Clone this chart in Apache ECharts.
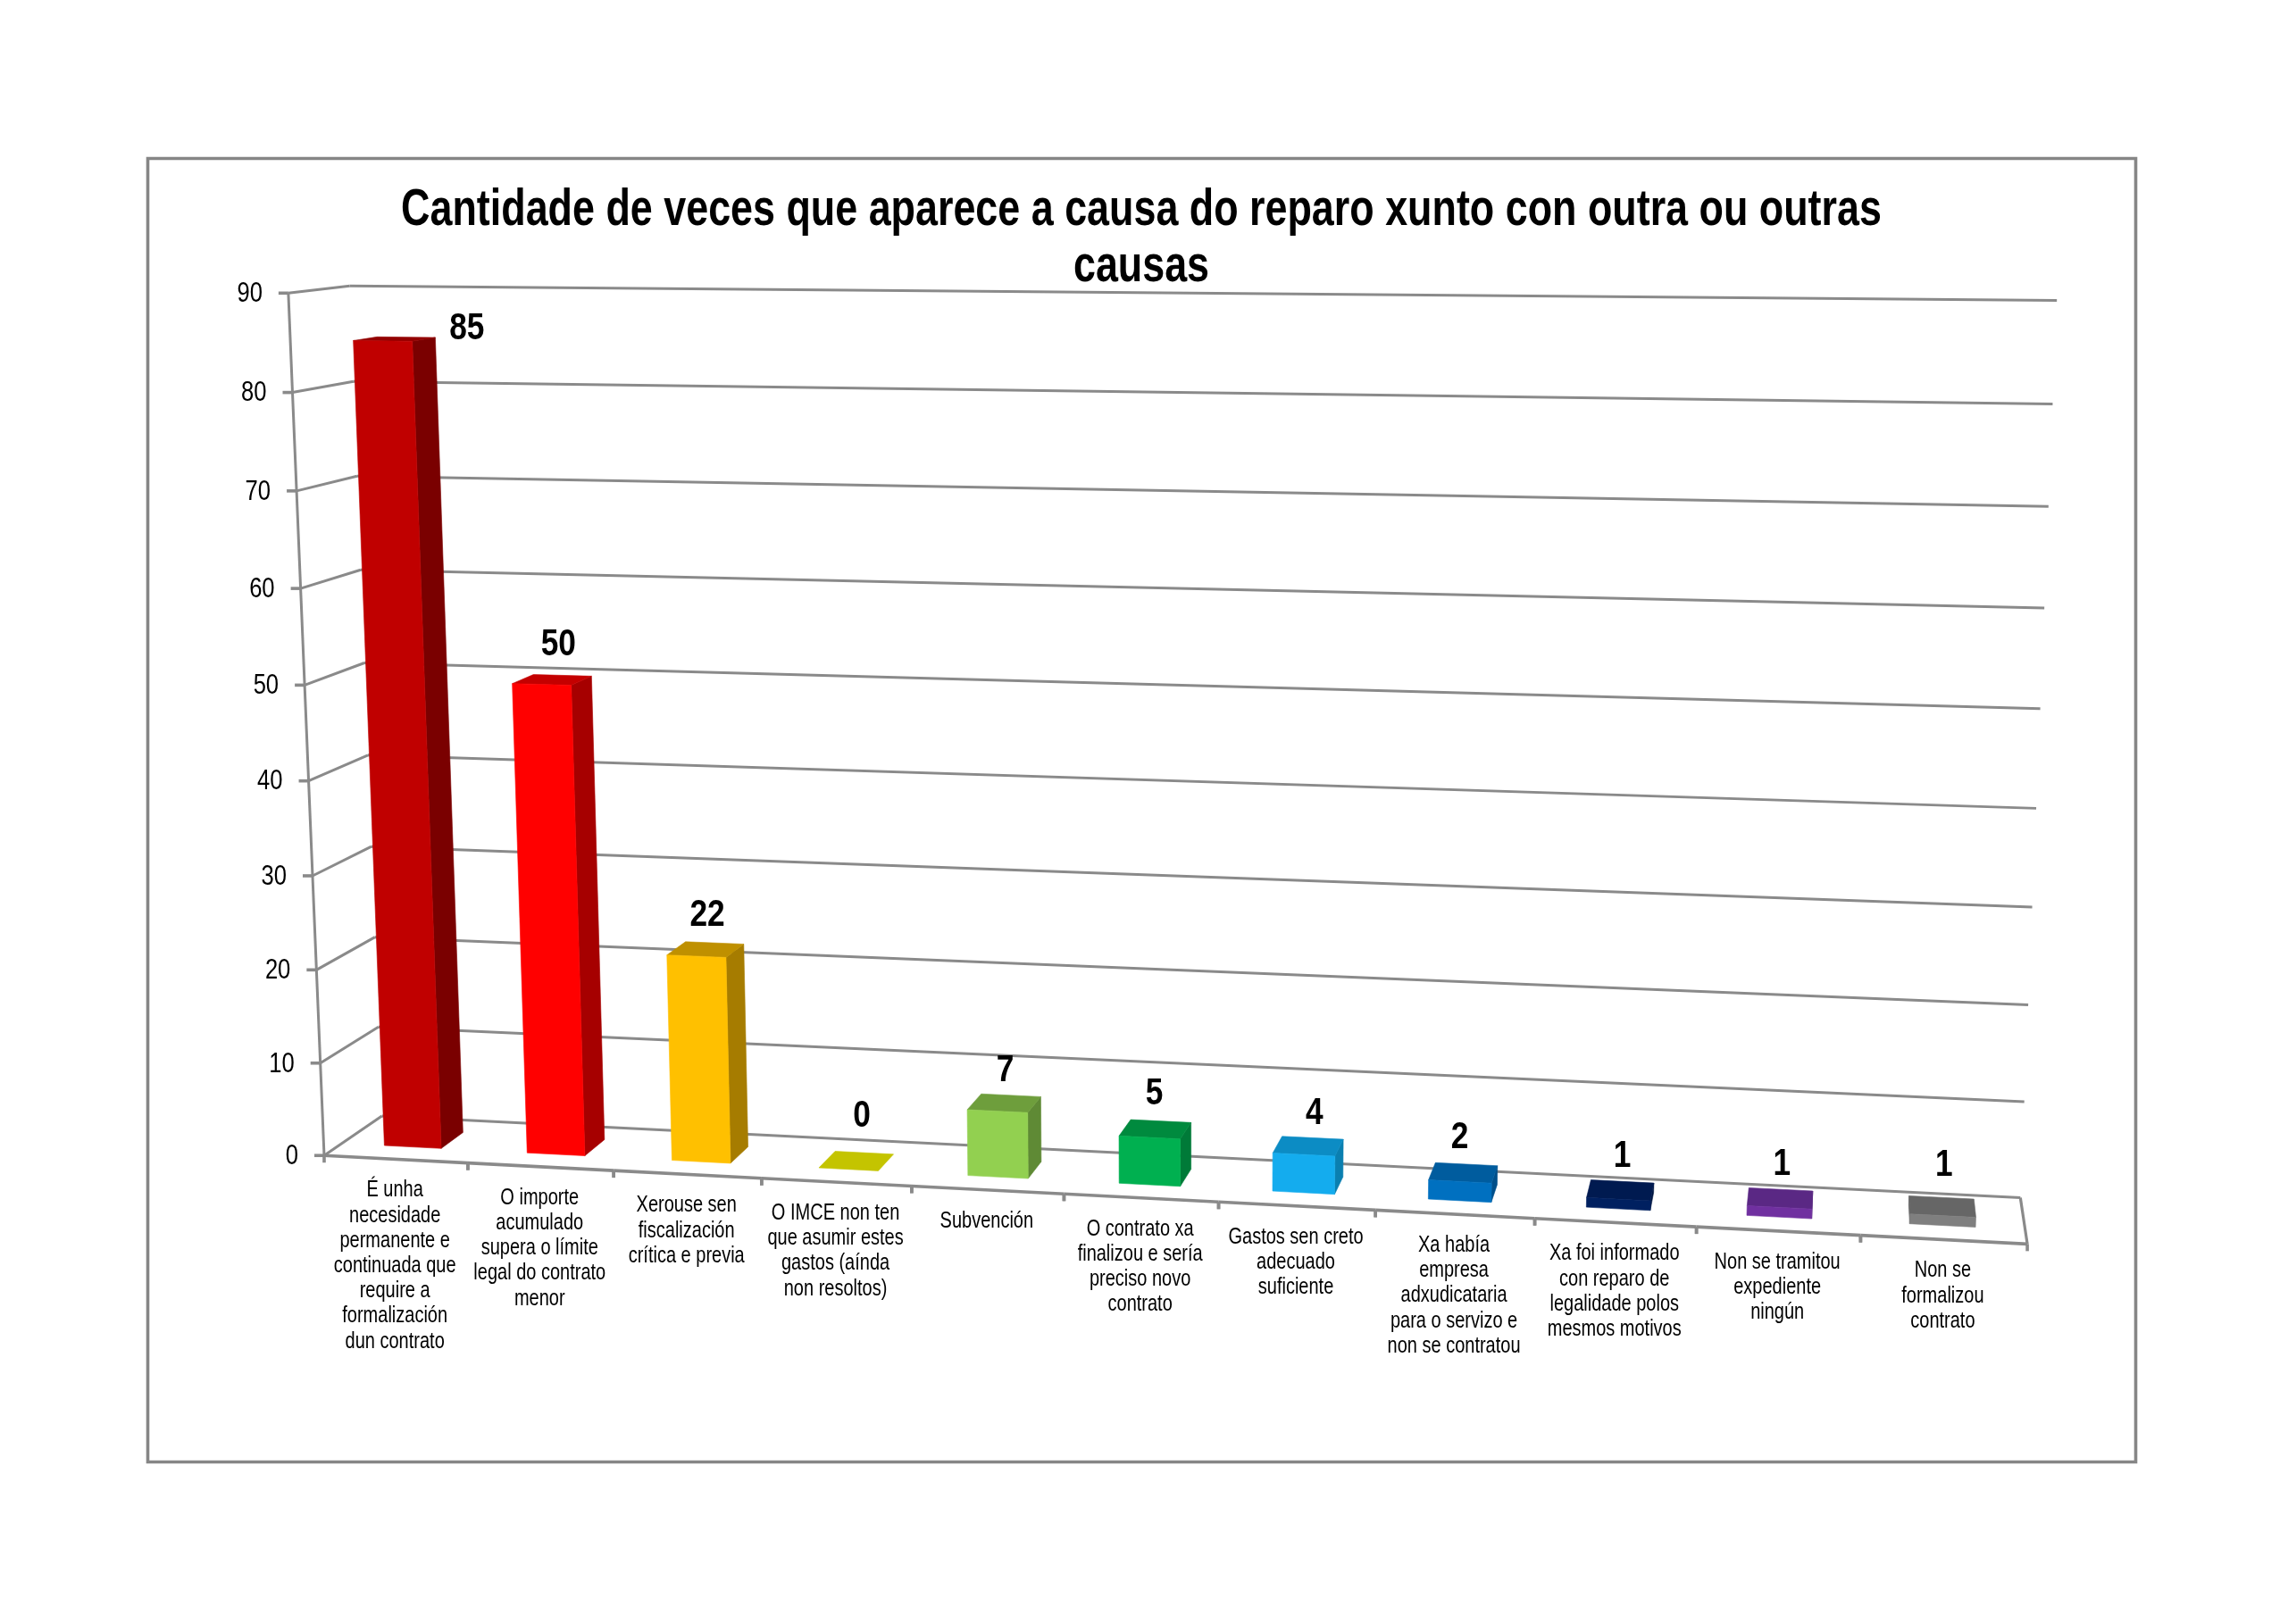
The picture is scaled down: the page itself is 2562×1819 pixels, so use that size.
<!DOCTYPE html>
<html>
<head>
<meta charset="utf-8">
<style>html,body{margin:0;padding:0;background:#fff}#chart{width:2562px;height:1819px}</style>
<script src="https://cdn.jsdelivr.net/npm/echarts@6/dist/echarts.min.js"></script>
</head>
<body>
<div id="chart"></div>
<script>
// Chart content
const chartTitle = 'Cantidade de veces que aparece a causa do reparo xunto con outra ou outras\ncausas';
const categories = [
  'É unha\nnecesidade\npermanente e\ncontinuada que\nrequire a\nformalización\ndun contrato',
  'O importe\nacumulado\nsupera o límite\nlegal do contrato\nmenor',
  'Xerouse sen\nfiscalización\ncrítica e previa',
  'O IMCE non ten\nque asumir estes\ngastos (aínda\nnon resoltos)',
  'Subvención',
  'O contrato xa\nfinalizou e sería\npreciso novo\ncontrato',
  'Gastos sen creto\nadecuado\nsuficiente',
  'Xa había\nempresa\nadxudicataria\npara o servizo e\nnon se contratou',
  'Xa foi informado\ncon reparo de\nlegalidade polos\nmesmos motivos',
  'Non se tramitou\nexpediente\nningún',
  'Non se\nformalizou\ncontrato'
];
const values = [85, 50, 22, 0, 7, 5, 4, 2, 1, 1, 1];
const yTicks = [0, 10, 20, 30, 40, 50, 60, 70, 80, 90];

// Face colours of each column
const frontColors = ['#C00000', '#FF0000', '#FFC000', '#C4C400', '#92D050', '#00B050', '#14ACEE', '#0070C0', '#002060', '#7030A0', '#7F7F7F'];
const sideColors  = ['#7A0000', '#A60000', '#A67C00', '#C4C400', '#5F8A35', '#007A38', '#0A7FB0', '#004F8A', '#001540', '#4F2272', '#5C5C5C'];
const topColors   = ['#930000', '#C40000', '#BF9000', '#C4C400', '#6E9E3C', '#008A3E', '#0C8CC4', '#005C9E', '#001A50', '#5A2884', '#666666'];

// The narrow look of the text comes from squeezing a regular face horizontally.
const FONT = '"Liberation Sans",Arial,sans-serif';
const GREY = '#8A8A8A';

// Camera: world (x, value, depth), each 0..1, to screen, solved by least squares
// from where the plot box's corners and a few axis ticks fall on the page.
const cameraFit = [
  [0, 0, 0, 363, 1295], [1, 0, 0, 2270.5, 1393], [0, 1, 0, 323, 328],
  [0, 0, 1, 428, 1250], [0, 1, 1, 391, 320], [1, 0, 1, 2262.5, 1341],
  [1, 1, 1, 2303, 337], [5 / 11, 0, 0, 1190, 1337.5], [0, 5 / 9, 0, 342, 767],
  [1, 8 / 9, 1, 2298.7, 452.7]
];

function solveCamera(fit) {
  const n = 11, N = Array.from({length: n}, () => new Array(n + 1).fill(0));
  const add = (row, rhs) => {
    for (let i = 0; i < n; i++) {
      for (let j = 0; j < n; j++) N[i][j] += row[i] * row[j];
      N[i][n] += row[i] * rhs;
    }
  };
  fit.forEach(([x, y, z, sx, sy]) => {
    const u = sx / 1000, v = sy / 1000;
    add([x, y, z, 1, 0, 0, 0, 0, -u * x, -u * y, -u * z], u);
    add([0, 0, 0, 0, x, y, z, 1, -v * x, -v * y, -v * z], v);
  });
  for (let i = 0; i < n; i++) {
    let p = i;
    for (let r = i + 1; r < n; r++) if (Math.abs(N[r][i]) > Math.abs(N[p][i])) p = r;
    [N[i], N[p]] = [N[p], N[i]];
    for (let r = 0; r < n; r++) {
      if (r === i) continue;
      const f = N[r][i] / N[i][i];
      for (let c = i; c <= n; c++) N[r][c] -= f * N[i][c];
    }
  }
  return N.map((row, i) => row[n] / row[i]);
}
const cam = solveCamera(cameraFit);
function project(x, y, z) {
  const w = cam[8] * x + cam[9] * y + cam[10] * z + 1;
  return [
    1000 * (cam[0] * x + cam[1] * y + cam[2] * z + cam[3]) / w,
    1000 * (cam[4] * x + cam[5] * y + cam[6] * z + cam[7]) / w
  ];
}

// Turn a data pair, read through the chart's axes, into unit plot coordinates.
function toUnit(params, api, index, value, frac) {
  const cs = params.coordSys;
  const p = api.coord([index, value]);
  const band = api.size([1, 0])[0];
  return [(p[0] + (frac - 0.5) * band - cs.x) / cs.width, (cs.y + cs.height - p[1]) / cs.height];
}

const line = (a, b, width) => ({
  type: 'line', silent: true,
  shape: {x1: a[0], y1: a[1], x2: b[0], y2: b[1]},
  style: {stroke: GREY, lineWidth: width}
});
const face = (pts, color) => ({
  type: 'polygon', silent: true,
  shape: {points: pts},
  style: {fill: color, stroke: color, lineWidth: 0.6}
});
const squeezedText = (text, x, y, squeeze, style) => ({
  type: 'text', silent: true, x, y, scaleX: squeeze,
  style: Object.assign({text, x: 0, y: 0, fill: '#000'}, style)
});

// Gridlines along the side and back walls, with the value ticks and labels.
function renderWalls(params, api) {
  const tick = api.value(1);
  const [, y] = toUnit(params, api, 0, tick, 0.5);
  const a = project(0, y, 0), b = project(0, y, 1), c = project(1, y, 1);
  return {type: 'group', children: [
    line(a, b, 3),
    line(b, c, 3),
    line([a[0] - 11, a[1]], a, 3.6),
    squeezedText(String(tick), a[0] - 29, a[1] + 1, 0.8, {
      align: 'right', verticalAlign: 'middle', font: '32px ' + FONT
    })
  ]};
}

// Front edge of the floor, value axis line, category ticks and category labels.
function renderFloor(params, api) {
  const i = api.value(0);
  const [x0] = toUnit(params, api, i, 0, 0);
  const [x1] = toUnit(params, api, i, 0, 1);
  const [xm] = toUnit(params, api, i, 0, 0.5);
  const a = project(x0, 0, 0), b = project(x1, 0, 0), m = project(xm, 0, 0);
  const kids = [
    line(a, b, 3.6),
    line(a, [a[0], a[1] + 8], 3.6),
    line(b, [b[0], b[1] + 8], 3.6),
    squeezedText(categories[i], m[0] - 1, m[1] + 21, 0.8, {
      align: 'center', verticalAlign: 'top', font: '25px ' + FONT, lineHeight: 28.2
    })
  ];
  if (i === 0) kids.push(line(project(0, 0, 0), project(0, 1, 0), 3));
  if (i === categories.length - 1) kids.push(line(project(1, 0, 0), project(1, 0, 1), 3.2));
  return {type: 'group', children: kids};
}

// Value labels that sit away from the default spot above a column.
const labelShift = {0: [81, 26], 1: [7, -1], 3: [6, -12], 4: [1, 2], 5: [-1, -2], 6: [7, 1], 7: [-4, -1], 10: [2, -8]};

// One column: visible faces of a box in depth 0.3..0.7, plus its value label.
function renderColumn(params, api) {
  const i = api.value(0), v = api.value(1);
  const [x0, y1] = toUnit(params, api, i, v, 0.3);
  const [x1] = toUnit(params, api, i, v, 0.7);
  const z0 = 0.3, z1 = 0.7;
  const P = project;
  const kids = [];
  if (v > 0) {
    if (P(x1, 0, z1)[0] > P(x1, 0, z0)[0]) {
      kids.push(face([P(x1, 0, z0), P(x1, 0, z1), P(x1, y1, z1), P(x1, y1, z0)], sideColors[i]));
    }
    if (P(x0, 0, z1)[0] < P(x0, 0, z0)[0]) {
      kids.push(face([P(x0, 0, z0), P(x0, 0, z1), P(x0, y1, z1), P(x0, y1, z0)], sideColors[i]));
    }
  }
  kids.push(face([P(x0, y1, z0), P(x1, y1, z0), P(x1, y1, z1), P(x0, y1, z1)], topColors[i]));
  if (v > 0) {
    kids.push(face([P(x0, 0, z0), P(x1, 0, z0), P(x1, y1, z0), P(x0, y1, z0)], frontColors[i]));
  }
  const top = P((x0 + x1) / 2, y1, 0.5);
  const s = labelShift[i] || [2, 0];
  kids.push(squeezedText(String(v), top[0] + s[0], top[1] - 38 + s[1], 0.82, {
    align: 'center', verticalAlign: 'middle', font: 'bold 43px ' + FONT
  }));
  return {type: 'group', children: kids};
}

const chart = echarts.init(document.getElementById('chart'), null, {renderer: 'canvas'});
chart.setOption({
  animation: false,
  backgroundColor: '#ffffff',
  grid: {left: 363, top: 328, width: 1907, height: 967},
  xAxis: {type: 'category', data: categories, show: false},
  yAxis: {type: 'value', min: 0, max: 90, interval: 10, show: false},
  graphic: [{
    type: 'rect', silent: true, z: -1,
    shape: {x: 165.5, y: 177.5, width: 2226, height: 1460},
    style: {fill: '#fff', stroke: '#868686', lineWidth: 3.6}
  }, {
    type: 'text', silent: true, z: 10, x: 1278, y: 205, scaleX: 0.787,
    style: {
      text: chartTitle, x: 0, y: 0, align: 'center', verticalAlign: 'top',
      font: 'bold 57px ' + FONT, lineHeight: 63, fill: '#000'
    }
  }],
  series: [
    {type: 'custom', clip: false, silent: true, z: 2, renderItem: renderWalls,
     data: yTicks.map(t => [0, t])},
    {type: 'custom', clip: false, silent: true, z: 3, renderItem: renderFloor,
     data: categories.map((_, i) => [i, 0])},
    {type: 'custom', clip: false, silent: true, z: 4, renderItem: renderColumn,
     data: values.map((v, i) => [i, v])}
  ]
});
</script>
</body>
</html>
